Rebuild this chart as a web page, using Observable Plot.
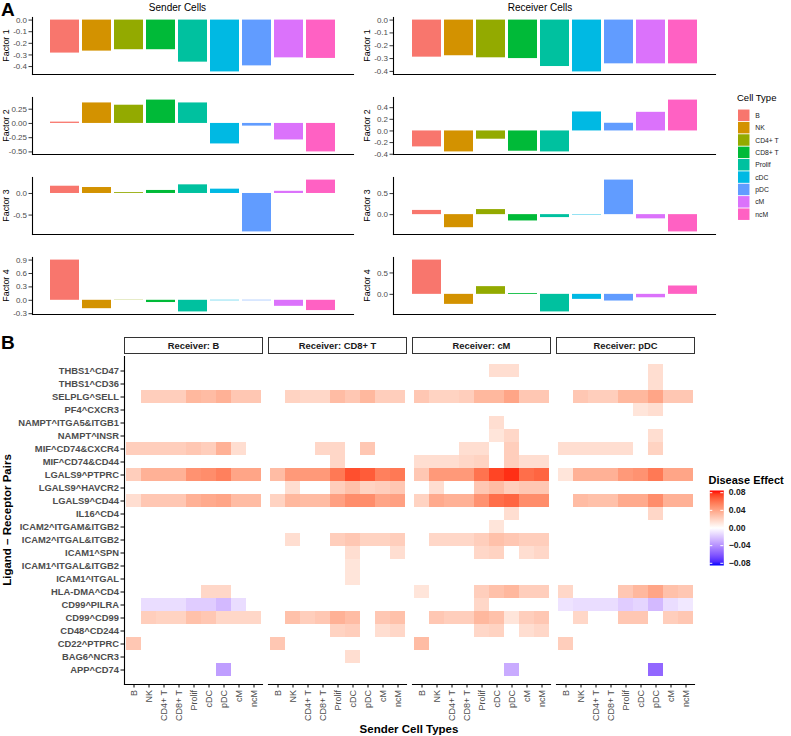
<!DOCTYPE html>
<html><head><meta charset="utf-8">
<script src="https://cdn.jsdelivr.net/npm/d3@7"></script>
<script src="https://cdn.jsdelivr.net/npm/@observablehq/plot@0.6"></script>
<style>
html,body{margin:0;padding:0;background:#fff;}
#root{position:relative;width:791px;height:736px;overflow:hidden;font-family:"Liberation Sans",Arial,sans-serif;}
.p{position:absolute;}
.p svg{display:block;overflow:visible;}
#overlay{position:absolute;left:0;top:0;pointer-events:none;}
.pa g[aria-label="y-axis tick label"]{fill:#4d4d4d;}
.pa g[aria-label="y-axis tick"]{stroke:#333;}
#heat g[aria-label="y-axis tick label"]{font-weight:bold;font-size:9.4px;fill:#4d4d4d;}
#heat g[aria-label="x-axis tick label"]{font-size:9px;fill:#4d4d4d;}
#heat g[aria-label="x-axis tick"], #heat g[aria-label="y-axis tick"]{stroke:#333;}
#legend g[aria-label="y-axis tick label"]{fill:#1a1a1a;}
#cbar g[aria-label="y-axis tick label"]{fill:#1a1a1a;font-weight:bold;}
</style>
</head><body>
<div id="root"></div>
<script>
// ---------- Panel A data ----------
const cellTypes = ["B", "NK", "CD4+ T", "CD8+ T", "Prolif", "cDC", "pDC", "cM", "ncM"];
const cellColors = ["#F8766D", "#D39200", "#93AA00", "#00BA38", "#00C19F", "#00B9E3", "#619CFF", "#DB72FB", "#FF61C3"];

const senderF1 = [-0.284, -0.267, -0.255, -0.255, -0.362, -0.446, -0.394, -0.325, -0.330];
const senderF2 = [0.023, 0.36, 0.32, 0.41, 0.36, -0.36, -0.047, -0.29, -0.50];
const senderF3 = [0.168, 0.138, 0.02, 0.07, 0.20, 0.10, -0.89, 0.05, 0.31];
const senderF4 = [0.90, -0.188, 0.005, -0.05, -0.26, -0.01, -0.01, -0.135, -0.23];

const receiverF1 = [-0.289, -0.278, -0.294, -0.300, -0.362, -0.404, -0.341, -0.341, -0.341];
const receiverF2 = [-0.274, -0.36, -0.142, -0.348, -0.36, 0.326, 0.132, 0.32, 0.53];
const receiverF3 = [0.10, -0.31, 0.12, -0.15, -0.07, -0.01, 0.82, -0.10, -0.41];
const receiverF4 = [0.80, -0.234, 0.18, 0.02, -0.41, -0.117, -0.156, -0.08, 0.195];

const ticksSenderF1 = [0, -0.1, -0.2, -0.3, -0.4];
const ticksSenderF2 = [0.25, 0, -0.25, -0.5];
const ticksSenderF3 = [0, -0.5];
const ticksSenderF4 = [0.9, 0.6, 0.3, 0, -0.3];
const ticksReceiverF1 = [0, -0.1, -0.2, -0.3, -0.4];
const ticksReceiverF2 = [0.4, 0.2, 0, -0.2, -0.4];
const ticksReceiverF3 = [0.5, 0];
const ticksReceiverF4 = [0.5, 0];

// ---------- Panel B data ----------
const receivers = ["B", "CD8+ T", "cM", "pDC"];
const senders = ["B", "NK", "CD4+ T", "CD8+ T", "Prolif", "cDC", "pDC", "cM", "ncM"];
const pairs = ["THBS1^CD47", "THBS1^CD36", "SELPLG^SELL", "PF4^CXCR3", "NAMPT^ITGA5&ITGB1",
  "NAMPT^INSR", "MIF^CD74&CXCR4", "MIF^CD74&CD44", "LGALS9^PTPRC", "LGALS9^HAVCR2",
  "LGALS9^CD44", "IL16^CD4", "ICAM2^ITGAM&ITGB2", "ICAM2^ITGAL&ITGB2", "ICAM1^SPN",
  "ICAM1^ITGAL&ITGB2", "ICAM1^ITGAL", "HLA-DMA^CD4", "CD99^PILRA", "CD99^CD99",
  "CD48^CD244", "CD22^PTPRC", "BAG6^NCR3", "APP^CD74"];
const _ = null;
// columns: B, NK, CD4+ T, CD8+ T, Prolif, cDC, pDC, cM, ncM
const effectRecvB = [
  [_, _, _, _, _, _, _, _, _],
  [_, _, _, _, _, _, _, _, _],
  [_, .022, .022, .022, .032, .030, .035, .025, .025],
  [_, _, _, _, _, _, _, _, _],
  [_, _, _, _, _, _, _, _, _],
  [_, _, _, _, _, _, _, _, _],
  [.022, .022, .022, .022, .025, .022, .035, .015, _],
  [_, _, _, _, _, _, _, _, _],
  [.022, .035, .035, .035, .048, .050, .055, .040, .040],
  [_, _, _, _, _, _, _, _, _],
  [.015, .025, .025, .025, .035, .038, .040, .030, .030],
  [_, _, _, _, _, _, _, _, _],
  [_, _, _, _, _, _, _, _, _],
  [_, _, _, _, _, _, _, _, _],
  [_, _, _, _, _, _, _, _, _],
  [_, _, _, _, _, _, _, _, _],
  [_, _, _, _, _, _, _, _, _],
  [_, _, _, _, _, .018, .018, _, _],
  [_, -.012, -.012, -.012, -.018, -.018, -.025, -.012, _],
  [_, .022, .020, .020, .028, .025, .018, .018, .018],
  [_, _, _, _, _, _, _, _, _],
  [.025, _, _, _, _, _, _, _, _],
  [_, _, _, _, _, _, _, _, _],
  [_, _, _, _, _, _, -.035, _, _]
];
const effectRecvCD8T = [
  [_, _, _, _, _, _, _, _, _],
  [_, _, _, _, _, _, _, _, _],
  [_, .020, .018, .018, .030, .025, .032, .022, .022],
  [_, _, _, _, _, _, _, _, _],
  [_, _, _, _, _, _, _, _, _],
  [_, _, _, _, _, _, _, _, _],
  [_, _, _, .018, .018, _, .025, _, _],
  [_, _, _, _, .018, _, _, _, _],
  [.030, .045, .045, .045, .058, .072, .068, .055, .058],
  [_, .015, _, _, .022, .028, .020, .022, .025],
  [.020, .032, .030, .030, .042, .050, .050, .040, .042],
  [_, _, _, _, _, _, _, _, _],
  [_, _, _, _, _, _, _, _, _],
  [_, .015, _, _, .022, .025, .020, .020, .022],
  [_, _, _, _, _, .015, _, _, .015],
  [_, _, _, _, _, .012, _, _, _],
  [_, _, _, _, _, .012, _, _, _],
  [_, _, _, _, _, _, _, _, _],
  [_, _, _, _, _, _, _, _, _],
  [_, .028, .022, .025, .035, .030, _, .025, .028],
  [_, _, _, _, .020, .022, _, .015, .018],
  [.025, _, _, _, _, _, _, _, _],
  [_, _, _, _, _, .015, _, _, _],
  [_, _, _, _, _, _, _, _, _]
];
const effectRecvCM = [
  [_, _, _, _, _, .015, .015, _, _],
  [_, _, _, _, _, _, _, _, _],
  [.025, .020, .020, .022, .032, .032, .040, .025, .025],
  [_, _, _, _, _, _, _, _, _],
  [_, _, _, _, _, .015, _, _, _],
  [_, _, _, _, _, .012, .018, _, _],
  [_, _, _, .015, .015, _, .022, _, _],
  [.015, .015, .015, .018, .020, _, .022, .015, .015],
  [.025, .045, .045, .045, .060, .075, .080, .062, .065],
  [_, .015, _, _, .025, .030, .022, .025, .025],
  [.020, .038, .035, .035, .048, .062, .065, .050, .050],
  [_, _, _, _, _, _, .015, _, _],
  [_, _, _, _, _, .012, _, _, _],
  [_, .018, .018, .018, .022, .028, .025, .022, .022],
  [_, _, _, _, .018, .020, _, .015, .018],
  [_, _, _, _, _, _, _, _, _],
  [_, _, _, _, _, _, _, _, _],
  [.012, _, _, _, .022, .028, .032, .022, .022],
  [_, _, _, _, .018, _, _, _, _],
  [_, .025, .022, .022, .032, .028, .012, .022, .025],
  [_, _, _, _, .018, .020, _, .015, .018],
  [.030, _, _, _, _, _, _, _, _],
  [_, _, _, _, _, _, _, _, _],
  [_, _, _, _, _, _, -.030, _, _]
];
const effectRecvPDC = [
  [_, _, _, _, _, _, .015, _, _],
  [_, _, _, _, _, _, .015, _, _],
  [_, .025, .022, .022, .032, .032, .040, .025, .025],
  [_, _, _, _, _, .012, .015, _, _],
  [_, _, _, _, _, _, _, _, _],
  [_, _, _, _, _, _, .015, _, _],
  [.015, .015, .015, .015, .015, _, .020, _, _],
  [_, _, _, _, _, _, _, _, _],
  [.012, .035, .035, .035, .045, .048, .058, .040, .040],
  [_, _, _, _, _, _, _, _, _],
  [_, .030, .028, .028, .038, .038, .050, .035, .035],
  [_, _, _, _, _, _, .018, _, _],
  [_, _, _, _, _, _, _, _, _],
  [_, _, _, _, _, _, _, _, _],
  [_, _, _, _, _, _, _, _, _],
  [_, _, _, _, _, _, _, _, _],
  [_, _, _, _, _, _, _, _, _],
  [.018, _, _, _, .025, .032, .040, .028, .025],
  [-.010, -.012, -.012, -.012, -.018, -.015, -.025, -.012, -.008],
  [_, .018, _, _, .025, .025, _, .022, .025],
  [_, _, _, _, _, _, _, _, _],
  [.022, _, _, _, _, _, _, _, _],
  [_, _, _, _, _, _, _, _, _],
  [_, _, _, _, _, _, -.055, _, _]
];
const effectLimits = [-0.085, 0.085];
const legendTicks = [0.08, 0.04, 0, -0.04, -0.08];

// ---------- helpers ----------
const root = document.getElementById("root");
const FONT = "Liberation Sans, Arial, sans-serif";
function place(el, left, top, id, cls) {
  const d = document.createElement("div");
  d.className = "p" + (cls ? " " + cls : "");
  if (id) d.id = id;
  d.style.left = left + "px";
  d.style.top = top + "px";
  d.appendChild(el);
  root.appendChild(d);
}
const hyphenFmt = f => v => d3.format(f)(v).replace("\u2212", "-");

function factorChart(values, ticks, fmt, left, top, mL, mR) {
  const data = cellTypes.map((c, i) => ({cell: c, value: values[i]}));
  const lo = Math.min(0, d3.min(values)), hi = Math.max(0, d3.max(values));
  const pad = (hi - lo) * 0.05;
  const p = Plot.plot({
    width: 360, height: 63,
    marginTop: 3, marginBottom: 3, marginLeft: mL, marginRight: mR,
    style: {background: "transparent", fontFamily: FONT, fontSize: "8px", color: "#000", overflow: "visible"},
    x: {domain: cellTypes, paddingInner: 0.1, paddingOuter: 0.43, axis: null},
    y: {domain: [lo - pad, hi + pad], ticks: ticks, tickFormat: hyphenFmt(fmt), tickSize: 3.5, tickPadding: 2, label: null},
    color: {domain: cellTypes, range: cellColors},
    marks: [
      Plot.barY(data, {x: "cell", y: "value", fill: "cell", inset: 0}),
      Plot.frame({anchor: "left", stroke: "#000", strokeWidth: 1.1}),
      Plot.frame({anchor: "bottom", stroke: "#000", strokeWidth: 1.1})
    ]
  });
  place(p, left, top, null, "pa");
}

const tops = [14, 94, 174, 254];
factorChart(senderF1, ticksSenderF1, ".1f", 0, tops[0], 32, 7);
factorChart(senderF2, ticksSenderF2, ".2f", 0, tops[1], 32, 7);
factorChart(senderF3, ticksSenderF3, ".1f", 0, tops[2], 32, 7);
factorChart(senderF4, ticksSenderF4, ".1f", 0, tops[3], 32, 7);
factorChart(receiverF1, ticksReceiverF1, ".1f", 360, tops[0], 33, 5);
factorChart(receiverF2, ticksReceiverF2, ".1f", 360, tops[1], 33, 5);
factorChart(receiverF3, ticksReceiverF3, ".1f", 360, tops[2], 33, 5);
factorChart(receiverF4, ticksReceiverF4, ".1f", 360, tops[3], 33, 5);

// Cell type legend
const cellLegend = Plot.plot({
  width: 60, height: 133, marginTop: 0, marginBottom: 0, marginLeft: 0, marginRight: 47,
  style: {background: "transparent", fontFamily: FONT, fontSize: "7.7px", color: "#000", overflow: "visible"},
  y: {domain: cellTypes, paddingInner: 0.08, paddingOuter: 0.04, axis: "right", tickSize: 0, tickPadding: 6, label: null},
  color: {domain: cellTypes, range: cellColors},
  marks: [Plot.cell(cellTypes, {y: d => d, fill: d => d, inset: 0})]
});
place(cellLegend, 738, 106, "legend");

// ---------- Panel B heatmap ----------
const matrices = {"B": effectRecvB, "CD8+ T": effectRecvCD8T, "cM": effectRecvCM, "pDC": effectRecvPDC};
const heatData = [];
receivers.forEach(r => matrices[r].forEach((row, i) => row.forEach((v, j) => {
  if (v !== null) heatData.push({receiver: r, pair: pairs[i], sender: senders[j], value: v});
})));

const heat = Plot.plot({
  width: 700, height: 390,
  marginLeft: 123, marginRight: 5.7, marginTop: 26, marginBottom: 36,
  style: {background: "transparent", fontFamily: FONT, fontSize: "9px", color: "#000", overflow: "visible"},
  fx: {domain: receivers, paddingInner: 0.04, paddingOuter: 0, axis: null, label: null},
  x: {domain: senders, padding: 0, tickRotate: -90, tickSize: 3.5, tickPadding: 2, label: null},
  y: {domain: pairs, padding: 0, tickSize: 3.5, tickPadding: 2, label: null},
  color: {type: "linear", domain: [effectLimits[0], 0, effectLimits[1]], range: ["blue", "white", "red"], interpolate: d3.interpolateLab},
  marks: [
    Plot.cell(heatData, {fx: "receiver", x: "sender", y: "pair", fill: "value", inset: 0}),
    Plot.frame({anchor: "bottom", stroke: "#000", strokeWidth: 1.1}),
    Plot.frame({anchor: "left", stroke: "#000", strokeWidth: 1.1, facetAnchor: "left"}),
    Plot.frame({fill: "white", stroke: "#333", strokeWidth: 1, insetTop: -19, insetBottom: 331}),
    Plot.text(receivers, {fx: d => d, text: d => "Receiver: " + d, frameAnchor: "top", lineAnchor: "middle", dy: -11, fontWeight: "bold", fontSize: 9.4, fill: "#1a1a1a"})
  ]
});
place(heat, 0, 330, "heat");

// ---------- Colorbar ----------
const cs = heat.scale("color");
const NS = "http://www.w3.org/2000/svg";
function gradDefs() {
  const defs = document.createElementNS(NS, "defs");
  const lg = document.createElementNS(NS, "linearGradient");
  lg.setAttribute("id", "cbgrad");
  lg.setAttribute("x1", "0"); lg.setAttribute("x2", "0");
  lg.setAttribute("y1", "1"); lg.setAttribute("y2", "0");
  const n = 20;
  for (let k = 0; k <= n; k++) {
    const t = k / n;
    const v = effectLimits[0] + t * (effectLimits[1] - effectLimits[0]);
    const s = document.createElementNS(NS, "stop");
    s.setAttribute("offset", t);
    s.setAttribute("stop-color", cs.apply(v));
    lg.appendChild(s);
  }
  defs.appendChild(lg);
  return defs;
}
const cbar = Plot.plot({
  width: 70, height: 83, marginTop: 4, marginBottom: 4, marginLeft: 9.3, marginRight: 46.7,
  style: {background: "transparent", fontFamily: FONT, fontSize: "8.6px", color: "#000", overflow: "visible"},
  y: {domain: effectLimits, ticks: legendTicks, tickFormat: d3.format(".2f"), tickSize: 0, tickPadding: 5, label: null, axis: "right"},
  marks: [
    () => gradDefs(),
    Plot.frame({fill: "url(#cbgrad)", stroke: "none"}),
    Plot.tickY(legendTicks, {y: d => d, stroke: "white", insetRight: 11}),
    Plot.tickY(legendTicks, {y: d => d, stroke: "white", insetLeft: 11})
  ]
});
place(cbar, 700, 486, "cbar");

// ---------- Overlay text ----------
const ov = d3.select(root).append("svg").attr("id", "overlay").attr("width", 791).attr("height", 736)
  .style("font-family", FONT);
ov.append("text").attr("x", 1).attr("y", 16).attr("font-size", 19).attr("font-weight", "bold").text("A");
ov.append("text").attr("x", 1).attr("y", 349).attr("font-size", 19).attr("font-weight", "bold").text("B");
ov.append("text").attr("x", 177.5).attr("y", 10.6).attr("font-size", 10).attr("text-anchor", "middle").text("Sender Cells");
ov.append("text").attr("x", 540).attr("y", 10.6).attr("font-size", 10).attr("text-anchor", "middle").text("Receiver Cells");
const factorNames = ["Factor 1", "Factor 2", "Factor 3", "Factor 4"];
factorNames.forEach((f, i) => {
  const cy = tops[i] + 3 + 28.5;
  [6, 366.5].forEach(cx => {
    ov.append("text").attr("transform", `translate(${cx},${cy}) rotate(-90)`)
      .attr("text-anchor", "middle").attr("dominant-baseline", "central").attr("font-size", 8.8).text(f);
  });
});
ov.append("text").attr("x", 737).attr("y", 100.5).attr("font-size", 9.5).text("Cell Type");
ov.append("text").attr("transform", "translate(7,520) rotate(-90)").attr("text-anchor", "middle")
  .attr("dominant-baseline", "central").attr("font-size", 11.5).attr("font-weight", "bold").text("Ligand \u2013 Receptor Pairs");
ov.append("text").attr("x", 409).attr("y", 733).attr("text-anchor", "middle").attr("font-size", 11.5)
  .attr("font-weight", "bold").text("Sender Cell Types");
ov.append("text").attr("x", 708.5).attr("y", 483.5).attr("font-size", 11).attr("font-weight", "bold").text("Disease Effect");
</script>
</body></html>
